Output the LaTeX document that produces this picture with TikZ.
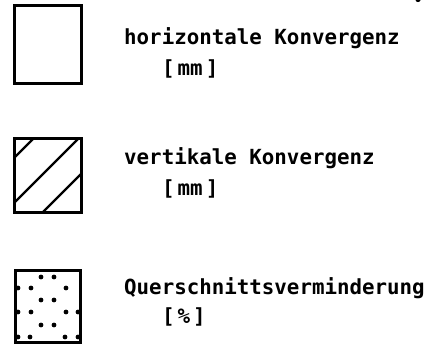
\documentclass[tikz,border=0pt]{standalone}
\usepackage{fontspec}
\setmonofont{DejaVu Sans Mono}
\begin{document}
\begin{tikzpicture}[x=1bp,y=-1bp,
  legbox/.style={draw=black,line width=3bp},
  hatch/.style={line width=2.3bp,line cap=round},
  lbl/.style={anchor=base west,inner sep=0pt,font=\ttfamily\bfseries\fontsize{20.8bp}{24bp}\selectfont},
  dotmark/.style={fill=black}]
\useasboundingbox (0,0) rectangle (445,349);
% box 1
\draw[legbox] (14,5) rectangle (81,83);
\node[lbl] (t1) at (124,44) {horizontale Konvergenz};
\node[lbl] (u1) at (162,75) {[\kern3bp mm\kern3bp]};
% box 2
\draw[hatch] (14,158) -- (34,138);
\draw[hatch] (14,203) -- (79,138);
\draw[hatch] (43,212) -- (81,174);
\draw[legbox] (14,138) rectangle (81,212);
\node[lbl] (t2) at (124,164) {vertikale Konvergenz};
\node[lbl] (u2) at (162,195) {[\kern3bp mm\kern3bp]};
% box 3
\draw[legbox] (15,270) rectangle (80,342);
\foreach \p in {(41,277),(54,277),(18,288),(31,288),(66,288),
                (41,300),(54,300),(18,312),(31,312),(66,312),(78,312),
                (41,325),(54,325),(18,337),(30,337),(65,337),(78,337)}
  \fill[dotmark] \p circle (2.4bp);
\node[lbl] (t3) at (124,294) {Querschnittsverminderung};
\node[lbl] (u3) at (162,323) {[\kern3bp\%\kern3bp]};
% scan mark top right
\fill (418,0) ellipse (2.5bp and 2bp);
\end{tikzpicture}
\end{document}
